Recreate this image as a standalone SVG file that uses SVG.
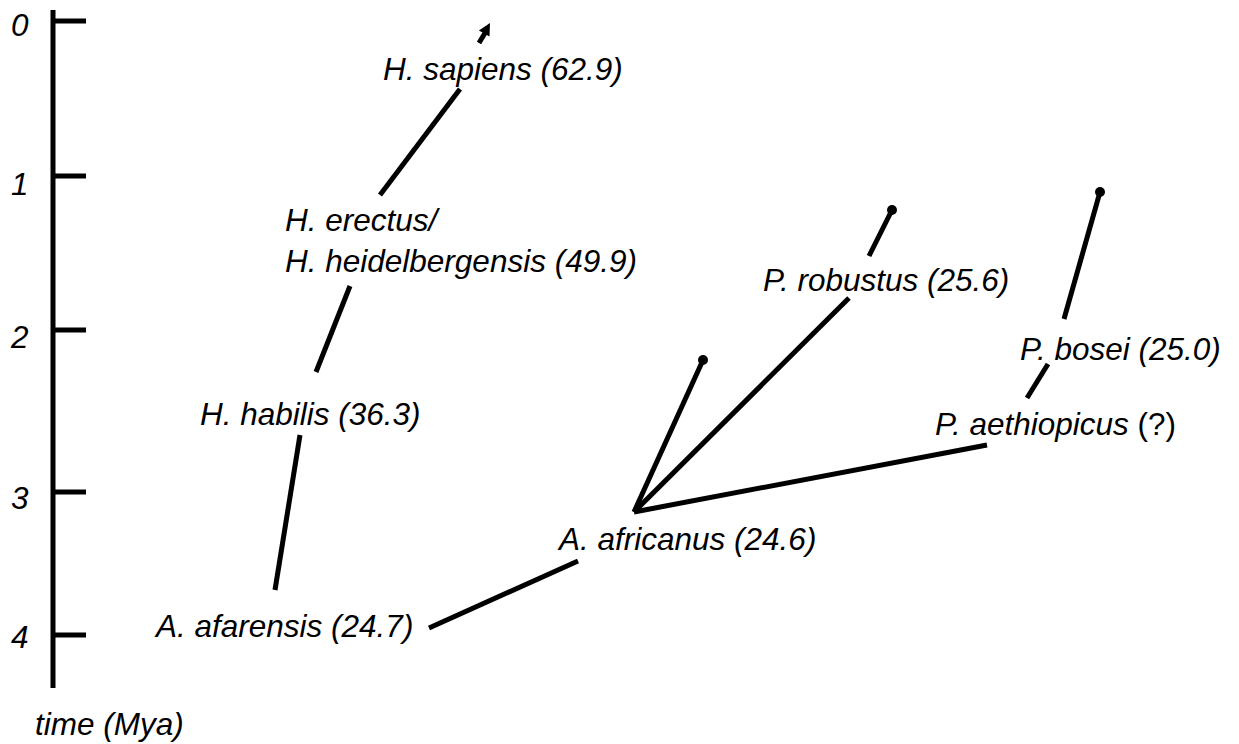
<svg xmlns="http://www.w3.org/2000/svg" width="1239" height="744" viewBox="0 0 1239 744">
<defs>
<style>
text{font-family:"Liberation Sans",Arial,sans-serif;font-style:italic;font-size:31.5px;fill:#000}
.up{font-style:normal}
.ln{stroke:#000;stroke-width:5;fill:none}
.ax{stroke:#000;stroke-width:5;fill:none}
</style>
<marker id="dot" markerWidth="4" markerHeight="4" refX="2" refY="2" markerUnits="strokeWidth"><circle cx="2" cy="2" r="1"/></marker>
</defs>
<rect width="1239" height="744" fill="#fff"/>
<g id="axis">
<line class="ax" x1="53" y1="10" x2="53" y2="688"/>
<line class="ax" x1="53" y1="21" x2="86" y2="21"/>
<line class="ax" x1="53" y1="176" x2="86" y2="176"/>
<line class="ax" x1="53" y1="330" x2="86" y2="330"/>
<line class="ax" x1="53" y1="492" x2="86" y2="492"/>
<line class="ax" x1="53" y1="635" x2="86" y2="635"/>
<text x="11" y="36">0</text>
<text x="11" y="195">1</text>
<text x="11" y="348">2</text>
<text x="11" y="509">3</text>
<text x="11" y="648">4</text>
<text x="35" y="735">time (Mya)</text>
</g>
<g id="connectors">
<line class="ln" x1="275" y1="590" x2="300" y2="435"/>
<line class="ln" x1="316" y1="372" x2="350" y2="286"/>
<line class="ln" x1="380" y1="195" x2="460" y2="89"/>
<line class="ln" x1="479" y1="43" x2="485" y2="33"/>
<polygon points="490,23 478.9,30.6 489.5,36.4"/>
<line class="ln" x1="429" y1="628" x2="578" y2="561"/>
<line class="ln" x1="634" y1="512" x2="703" y2="360" marker-end="url(#dot)"/>
<line class="ln" x1="634" y1="512" x2="849" y2="298"/>
<line class="ln" x1="634" y1="512" x2="987" y2="445"/>
<line class="ln" x1="869" y1="256" x2="892" y2="210" marker-end="url(#dot)"/>
<line class="ln" x1="1027" y1="398" x2="1048" y2="364"/>
<line class="ln" x1="1064" y1="319" x2="1100" y2="192" marker-end="url(#dot)"/>
</g>
<g id="n-sapiens"><text x="383" y="80">H. sapiens (62.9)</text></g>
<g id="n-erectus"><text x="285" y="231">H. erectus/</text><text x="285" y="272">H. heidelbergensis (49.9)</text></g>
<g id="n-habilis"><text x="200" y="425">H. habilis (36.3)</text></g>
<g id="n-afarensis"><text x="156" y="637">A. afarensis (24.7)</text></g>
<g id="n-africanus"><text x="559" y="550">A. africanus (24.6)</text></g>
<g id="n-robustus"><text x="763" y="291">P. robustus (25.6)</text></g>
<g id="n-bosei"><text x="1020" y="360">P. bosei (25.0)</text></g>
<g id="n-aethiopicus"><text x="935" y="435">P. aethiopicus <tspan class="up">(?)</tspan></text></g>
</svg>
